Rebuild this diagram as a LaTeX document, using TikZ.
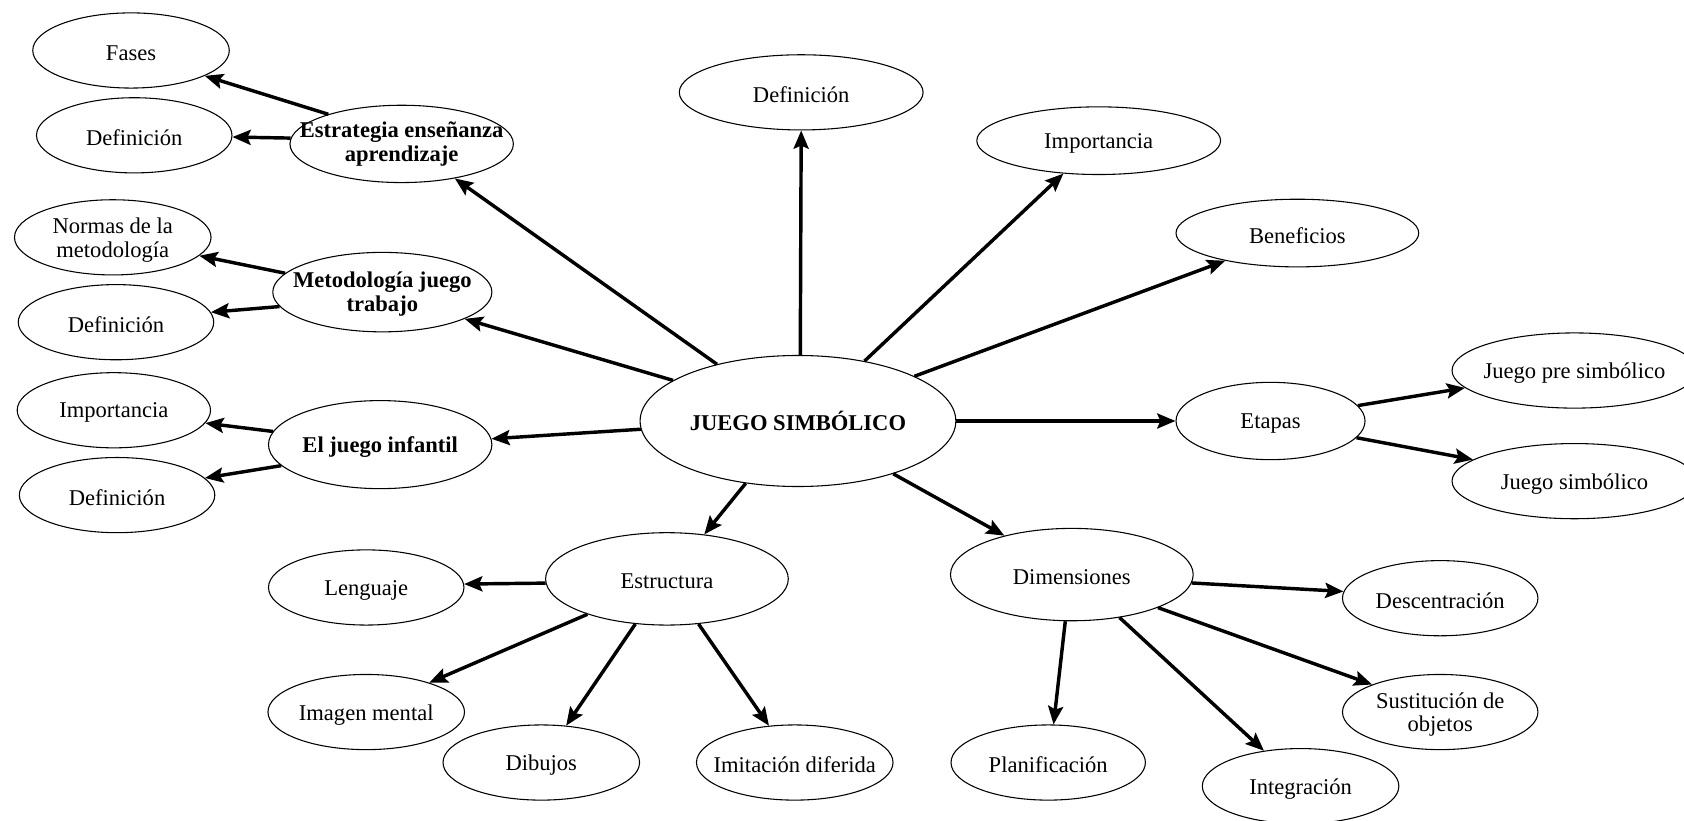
\documentclass[tikz,border=0pt]{standalone}
\usepackage{fontspec}
\setmainfont{Liberation Serif}
\usetikzlibrary{shapes.geometric,arrows.meta}
\begin{document}
\begin{tikzpicture}[x=0.5pt,y=-0.5pt,
  el/.style 2 args={draw, ellipse, line width=0.5pt, inner sep=0pt, minimum width={#1*0.5pt}, minimum height={#2*0.5pt}},
  lbl/.style={font=\fontsize{10.5}{11}\selectfont, align=center, inner sep=0pt, yshift=-1.2pt},
  blbl/.style={font=\fontsize{10.5}{11}\selectfont\bfseries, align=center, inner sep=0pt, yshift=-1pt},
  arr/.style={line width=1.6pt, -{Stealth[length=8.5pt,width=7pt,inset=1.5pt]}}]
\useasboundingbox (0,0) rectangle (1568,764);
\clip (0,0) rectangle (1568,764);
% centre
\node[el={294}{122}, label={[blbl,yshift=1pt]center:JUEGO SIMBÓLICO}] (main) at (743,392) {};
% left branch
\node[el={208}{72}, label={[blbl,yshift=1pt]center:Estrategia enseñanza\\aprendizaje}] (estr) at (374,134) {};
\node[el={183}{70}, label={[lbl]center:Fases}] (fases) at (122,47) {};
\node[el={182}{70}, label={[lbl]center:Definición}] (defa) at (125,126) {};
\node[el={204}{74}, label={[blbl]center:Metodología juego\\trabajo}] (met) at (356,272) {};
\node[el={183}{70}, label={[lbl]center:Normas de la\\metodología}] (norm) at (105,221) {};
\node[el={182}{70}, label={[lbl]center:Definición}] (defb) at (108,300) {};
\node[el={208}{82}, label={[blbl]center:El juego infantil}] (inf) at (354,414) {};
\node[el={180}{70}, label={[lbl]center:Importancia}] (impa) at (106,382) {};
\node[el={182}{70}, label={[lbl]center:Definición}] (defc) at (109,461) {};
% top / right
\node[el={227}{70}, label={[lbl]center:Definición}] (deft) at (746,86) {};
\node[el={227}{63}, label={[lbl]center:Importancia}] (impb) at (1023,131) {};
\node[el={226}{63}, label={[lbl]center:Beneficios}] (ben) at (1208,217) {};
\node[el={176}{72}, label={[lbl]center:Etapas}] (eta) at (1183,392) {};
\node[el={228}{70}, label={[lbl]center:Juego pre simbólico}] (jps) at (1466,345) {};
\node[el={228}{70}, label={[lbl]center:Juego simbólico}] (js) at (1466,448) {};
% bottom left
\node[el={226}{86}, label={[lbl]center:Estructura}] (estru) at (621,539) {};
\node[el={182}{70}, label={[lbl]center:Lenguaje}] (len) at (341,547) {};
\node[el={183}{70}, label={[lbl]center:Imagen mental}] (img) at (341,663) {};
\node[el={183}{70}, label={[lbl]center:Dibujos}] (dib) at (504,710) {};
\node[el={183}{70}, label={[lbl]center:Imitación diferida}] (imi) at (740,710) {};
% bottom right
\node[el={226}{86}, label={[lbl]center:Dimensiones}] (dim) at (998,535) {};
\node[el={182}{70}, label={[lbl]center:Descentración}] (desc) at (1341,557) {};
\node[el={182}{70}, label={[lbl]center:Sustitución de\\objetos}] (sus) at (1341,663) {};
\node[el={181}{70}, label={[lbl]center:Planificación}] (plan) at (976,710) {};
\node[el={183}{70}, label={[lbl]center:Integración}] (int) at (1211,732) {};
% arrows from centre
\draw[arr] (main.145) -- (estr.-33);
\draw[arr] (main.88) -- (deft.-90);
\draw[arr] (main.42) -- (impb.-137);
\draw[arr] (main.21) -- (ben.-159);
\draw[arr] (main.0) -- (eta.180);
\draw[arr] (main.-29) -- (dim.150);
\draw[arr] (main.-130) -- (estru.50);
\draw[arr] (main.-177) -- (inf.3);
\draw[arr] (main.162) -- (met.-18);
% secondary arrows
\draw[arr] (estr.158) -- (fases.-19);
\draw[arr] (estr.177) -- (defa.-1);
\draw[arr] (met.169) -- (norm.-12);
\draw[arr] (met.-172) -- (defb.6);
\draw[arr] (inf.173) -- (impa.-8);
\draw[arr] (inf.-168) -- (defc.11);
\draw[arr] (eta.10) -- (jps.-171);
\draw[arr] (eta.-11) -- (js.168);
\draw[arr] (estru.-178) -- (len.2);
\draw[arr] (estru.-156) -- (img.25);
\draw[arr] (estru.-125) -- (dib.56);
\draw[arr] (estru.-55) -- (imi.125);
\draw[arr] (dim.-4) -- (desc.176);
\draw[arr] (dim.-21) -- (sus.158);
\draw[arr] (dim.-98) -- (plan.82);
\draw[arr] (dim.-42) -- (int.136);
\end{tikzpicture}
\end{document}
